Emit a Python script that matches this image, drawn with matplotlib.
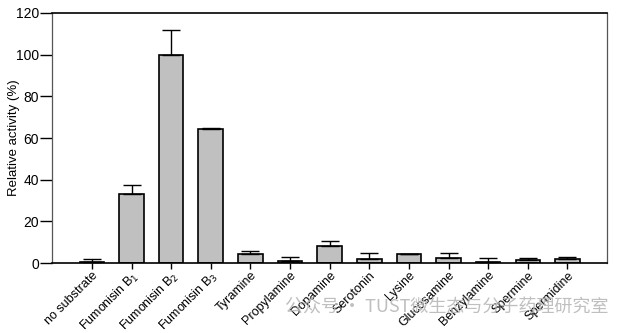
import matplotlib.pyplot as plt
import numpy as np

plt.rcParams['font.family'] = ['Liberation Sans', 'DejaVu Sans']

labels = ["no substrate", "Fumonisin B$_1$", "Fumonisin B$_2$", "Fumonisin B$_3$",
          "Tyramine", "Propylamine", "Dopamine", "Serotonin", "Lysine",
          "Glucosamine", "Benzylamine", "Spermine", "Spermidine"]
activity = [0.5, 33.0, 100.0, 64.5, 4.3, 1.0, 8.0, 2.0, 4.2, 2.3, 0.7, 1.6, 1.8]
sd = [1.3, 4.5, 12.0, 0.5, 1.5, 1.8, 2.5, 2.6, 0.2, 2.3, 1.8, 0.8, 1.1]

fig = plt.figure(figsize=(6.22, 3.33), dpi=100)
ax = fig.add_axes([0.084, 0.21, 0.892, 0.751])

x = np.arange(len(labels))
ax.bar(x, activity, width=0.62, color="#c0c0c0", edgecolor="black", linewidth=1.2, zorder=2)
ax.errorbar(x, activity, yerr=[np.zeros(len(sd)), sd], fmt="none", ecolor="black",
            elinewidth=1.0, capsize=6.5, capthick=1.0, zorder=3)

ax.set_xlim(-1, len(labels))
ax.set_ylim(0, 120)
ax.set_yticks(np.arange(0, 121, 20))
ax.set_xticks(x)
ax.set_xticklabels(labels, rotation=45, ha="right", rotation_mode="anchor", fontsize=9)
ax.tick_params(axis="y", labelsize=10, length=8.5, width=1.0, direction="out", pad=1)
ax.tick_params(axis="x", length=4, width=1.0, direction="out", pad=0.5)
ax.set_ylabel("Relative activity (%)", fontsize=9.5)
ax.yaxis.set_label_coords(-0.058, 0.5)

for side in ["bottom", "top"]:
    ax.spines[side].set_linewidth(1.2)
for side in ["left", "right"]:
    ax.spines[side].set_linewidth(0.9)
    ax.spines[side].set_color("#555555")

fig.text(0.458, 0.065, "公众号 · TUST微生态与分子药理研究室", fontsize=13,
         color="#b8b8b8", alpha=0.9,
         family=["Noto Sans CJK SC", "DejaVu Sans"], zorder=10)

fig.savefig("out.png", dpi=100)
